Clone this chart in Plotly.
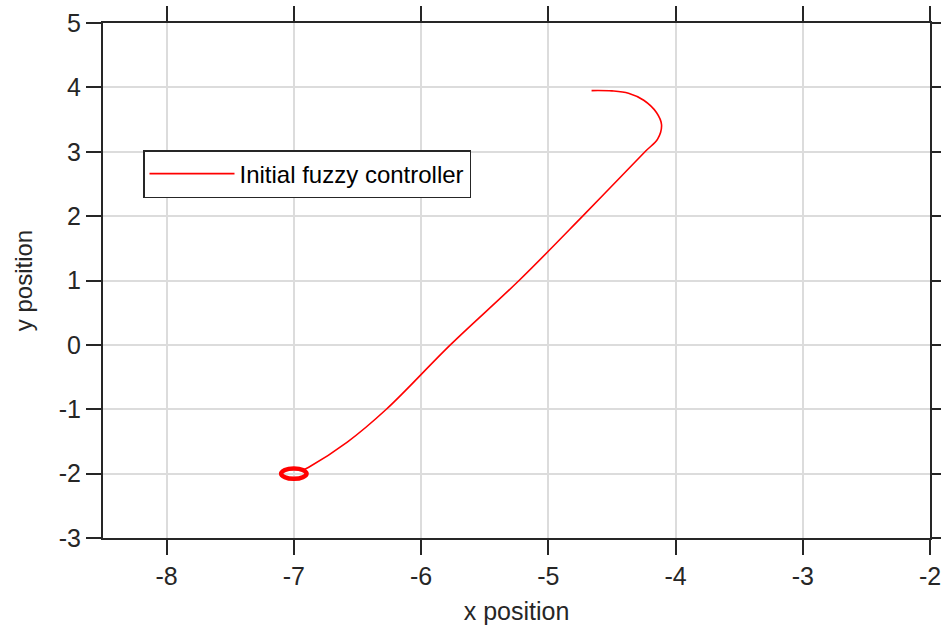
import plotly.graph_objects as go

# Trajectory of the vehicle under the initial fuzzy controller
traj_x = [-4.66, -4.50, -4.37, -4.25, -4.15, -4.11, -4.14, -4.24,
          -4.73, -5.23, -5.77, -6.273, -6.58, -6.883, -6.93]
traj_y = [3.95, 3.945, 3.91, 3.80, 3.61, 3.42, 3.20, 3.00,
          2.00, 1.00, 0.00, -1.00, -1.51, -1.90, -1.945]

# Small limit cycle that the trajectory settles into around (-7, -2)
loop_x = [-6.90, -6.93, -7.00, -7.07, -7.10, -7.07, -7.00, -6.93, -6.90]
loop_y = [-2.00, -1.945, -1.92, -1.945, -2.00, -2.055, -2.08, -2.055, -2.00]

x_ticks = [-8, -7, -6, -5, -4, -3, -2]
y_ticks = [-3, -2, -1, 0, 1, 2, 3, 4, 5]

RED = "#ff0000"
AXIS = "#262626"
GRID = "#dcdcdc"
FONT = "Liberation Sans, Arial, sans-serif"

fig = go.Figure()
fig.add_trace(go.Scatter(
    x=traj_x, y=traj_y,
    mode="lines", line=dict(color=RED, width=1.6, shape="spline", smoothing=1.0),
    name="Initial fuzzy controller", showlegend=True,
))
fig.add_trace(go.Scatter(
    x=loop_x, y=loop_y, mode="lines",
    line=dict(color=RED, width=4.5, shape="spline", smoothing=1.2),
    showlegend=False, hoverinfo="skip",
))

axis_common = dict(
    showline=True, linecolor=AXIS, linewidth=2, mirror="ticks",
    ticks="outside", ticklen=15, tickwidth=2, tickcolor=AXIS,
    showgrid=True, gridcolor=GRID, gridwidth=1.5, zeroline=False,
    tickfont=dict(family=FONT, size=25, color=AXIS),
    ticklabeloverflow="allow",
)

fig.update_xaxes(
    range=[-8.5, -2], tickvals=x_ticks, ticktext=[str(v) for v in x_ticks],
    title=dict(text="x position", font=dict(family=FONT, size=25, color=AXIS), standoff=13),
    **axis_common,
)
fig.update_yaxes(
    range=[-3, 5], tickvals=y_ticks, ticktext=[str(v) for v in y_ticks],
    title=dict(text="y position", font=dict(family=FONT, size=24, color=AXIS), standoff=19),
    **axis_common,
)

fig.update_layout(
    width=941, height=628,
    margin=dict(l=103, r=11, t=23, b=90, autoexpand=False),
    paper_bgcolor="white", plot_bgcolor="white",
    legend=dict(
        x=(143 - 103) / 827, y=1 - (150 - 23) / 515, xanchor="left", yanchor="top",
        bgcolor="white", bordercolor=AXIS, borderwidth=1.5,
        font=dict(family=FONT, size=24, color="#000000"),
        itemwidth=85,
    ),
    showlegend=True,
)

fig.write_html("out.html")
